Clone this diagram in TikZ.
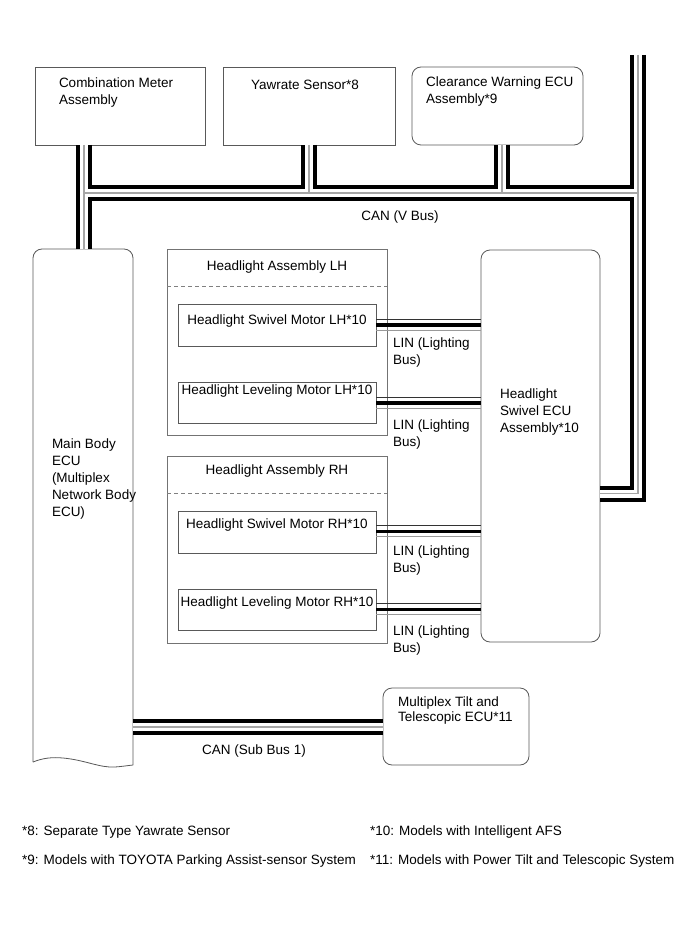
\documentclass[tikz,border=0pt]{standalone}
\usepackage{fontspec}
\setmainfont{Liberation Sans}
\begin{document}
\begin{tikzpicture}[x=1pt,y=-1pt,
  every node/.style={inner sep=0pt, outer sep=0pt},
  font=\fontsize{13.5}{17}\selectfont,
  box/.style={draw=black!65, line width=0.8pt, anchor=north west},
  rbox/.style={box, rounded corners=9pt},
  asm/.style={draw=black!55, line width=0.7pt, anchor=north west},
  sepline/.style={draw=black!50, line width=0.6pt, dash pattern=on 4pt off 3pt},
  txt/.style={anchor=base west},
  ctxt/.style={anchor=base},
  canblack/.style={line width=16pt, black},
  canwhite/.style={line width=8pt, white},
  cangray/.style={line width=1.8pt, black!35},
  linA/.style={line width=0.9pt, black!80},
  linB/.style={line width=3.8pt, black},
  linC/.style={line width=1pt, black!40}]
\useasboundingbox[fill=white] (0,0) rectangle (690,952);

% ---- top boxes
\node[box, minimum width=170, minimum height=78] (cm) at (35,67) {};
\node[box, minimum width=172, minimum height=78] (ys) at (223,67) {};
\node[rbox, minimum width=171, minimum height=78] (cw) at (412,67) {};
\node[txt] (cmt1) at (59,87.5) {Combination Meter};
\node[txt] (cmt2) at (59,104.5) {Assembly};
\node[txt] (yst) at (251,89.5) {Yawrate Sensor*8};
\node[txt] (cwt1) at (426,86.5) {Clearance Warning ECU};
\node[txt] (cwt2) at (426,103.5) {Assembly*9};

% ---- main body ECU
\node[minimum width=100, minimum height=516, anchor=north west] (mb) at (33,249) {};
\draw[draw=black!65, line width=0.8pt, rounded corners=9pt] (33,762) -- (33,249) -- (133,249) -- (133,765);
\draw[draw=black!65, line width=0.8pt] (133,765) .. controls (128,765.5) and (122,766.5) .. (115,767)
   .. controls (100,768) and (85,760) .. (63,758) .. controls (52,757) and (43,758) .. (33,762);
\node[txt] (mbt1) at (52,448) {Main Body};
\node[txt] (mbt2) at (52,465) {ECU};
\node[txt] (mbt3) at (52,482) {(Multiplex};
\node[txt] (mbt4) at (52,499) {Network Body};
\node[txt] (mbt5) at (52,516) {ECU)};

% ---- headlight assemblies
\node[asm, minimum width=220, minimum height=186] (hal) at (167,249) {};
\draw[sepline] ([yshift=-37pt]hal.north west) -- ([yshift=-37pt]hal.north east);
\node[ctxt] (halt) at (277,270) {Headlight Assembly LH};
\node[box, minimum width=198, minimum height=42] (sml) at (178,304) {};
\node[ctxt] (smlt) at (277,324.5) {Headlight Swivel Motor LH*10};
\node[box, minimum width=198, minimum height=41] (lml) at (178,382) {};
\node[ctxt] (lmlt) at (277,394.5) {Headlight Leveling Motor LH*10};

\node[asm, minimum width=220, minimum height=187] (har) at (167,456) {};
\draw[sepline] ([yshift=-37pt]har.north west) -- ([yshift=-37pt]har.north east);
\node[ctxt] (hart) at (277,474.5) {Headlight Assembly RH};
\node[box, minimum width=198, minimum height=42] (smr) at (178,511) {};
\node[ctxt] (smrt) at (277,528) {Headlight Swivel Motor RH*10};
\node[box, minimum width=198, minimum height=41] (lmr) at (178,589) {};
\node[ctxt] (lmrt) at (277,606.5) {Headlight Leveling Motor RH*10};

% ---- headlight swivel ECU
\node[rbox, minimum width=119, minimum height=392] (hs) at (481,250) {};
\node[txt] (hst1) at (500,398) {Headlight};
\node[txt] (hst2) at (500,415) {Swivel ECU};
\node[txt] (hst3) at (500,432) {Assembly*10};

% ---- multiplex tilt
\node[rbox, minimum width=146, minimum height=77] (mt) at (383,688) {};
\node[txt] (mtt1) at (398,706.5) {Multiplex Tilt and};
\node[txt] (mtt2) at (398,721) {Telescopic ECU*11};

% ---- CAN buses
\coordinate (J1) at (84,193);
\coordinate (J3) at (502,193);
\coordinate (T) at (638,55);
\coordinate (C) at (638,493.5);
\coordinate (S) at (0,727);
\newcommand\canbus[1]{%
  \draw[#1] (cm.south -| J1) -- (mb.north -| J1);
  \draw[#1] (J1) -- (C |- J1);
  \draw[#1] (ys.south) -- (ys.south |- J1);
  \draw[#1] (cw.south -| J3) -- (J3);
  \draw[#1] (T) -- (C) -- (hs.east |- C);
  \draw[#1] (mb.east |- S) -- (mt.west |- S);}
\canbus{canblack}
\canbus{canwhite}
\canbus{cangray}
\node[ctxt] (canv) at (400,220.5) {CAN (V Bus)};
\node[ctxt] (cans) at (254,754.5) {CAN (Sub Bus 1)};

% ---- LIN buses
\newcommand\linbus[3]{%
  \path (0,{#3-6}) coordinate (la) (0,#3) coordinate (lb) (0,{#3+5}) coordinate (lc);
  \draw[linA] (#1.east |- la) -- (#2.west |- la);
  \draw[linB] (#1.east |- lb) -- (#2.west |- lb);
  \draw[linC] (#1.east |- lc) -- (#2.west |- lc);}
\linbus{sml}{hs}{325}
\linbus{lml}{hs}{403}
\linbus{smr}{hs}{531.5}
\linbus{lmr}{hs}{609.5}
\node[txt] (lin1a) at (393,347) {LIN (Lighting};
\node[txt] (lin1b) at (393,364) {Bus)};
\node[txt] (lin2a) at (393,429.5) {LIN (Lighting};
\node[txt] (lin2b) at (393,446.5) {Bus)};
\node[txt] (lin3a) at (393,555) {LIN (Lighting};
\node[txt] (lin3b) at (393,572) {Bus)};
\node[txt] (lin4a) at (393,635) {LIN (Lighting};
\node[txt] (lin4b) at (393,652) {Bus)};

% ---- footnotes
\node[txt] (fn8) at (22,835) {*8: Separate Type Yawrate Sensor};
\node[txt] (fn9) at (22,864) {*9: Models with TOYOTA Parking Assist-sensor System};
\node[txt] (fn10) at (370,835) {*10: Models with Intelligent AFS};
\node[txt] (fn11) at (370,864) {*11: Models with Power Tilt and Telescopic System};
\end{tikzpicture}
\end{document}
